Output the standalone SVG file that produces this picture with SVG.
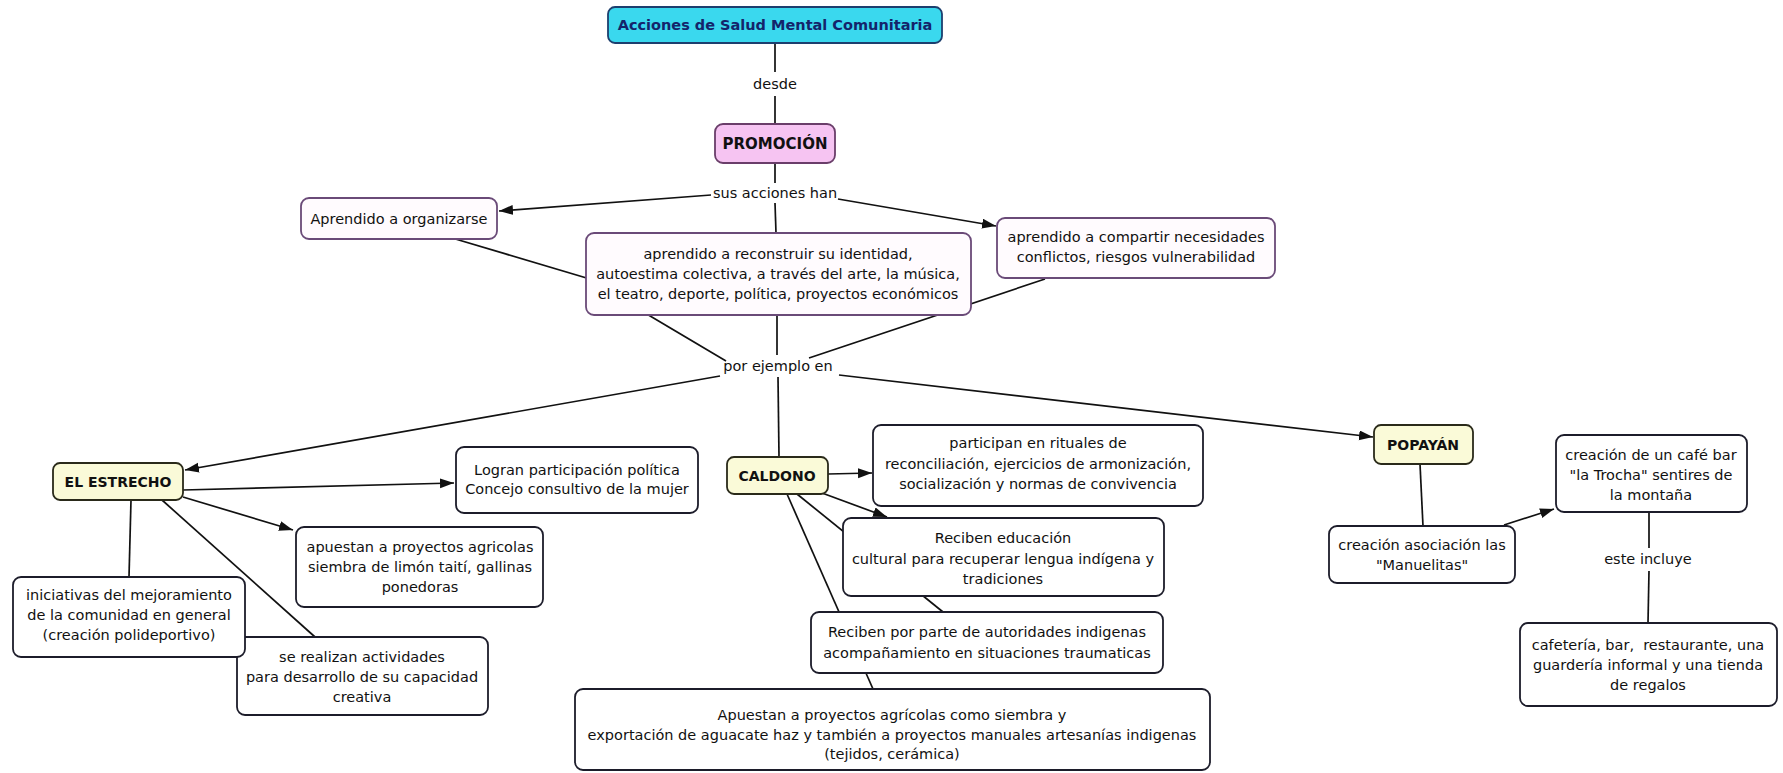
<svg xmlns="http://www.w3.org/2000/svg" width="1783" height="773" viewBox="0 0 1783 773">
<style>
text{font-family:"DejaVu Sans","Noto Sans",sans-serif;font-size:14.5px;fill:#111;text-anchor:middle}
.b{font-weight:bold}
.box{fill:#fff;stroke:#1c1c2a;stroke-width:1.8}
.pbox{fill:#fffbfe;stroke:#6a4a78;stroke-width:1.8}
.ybox{fill:#fafad8;stroke:#2a2a1a;stroke-width:1.8}
.ln{stroke:#111;stroke-width:1.7;fill:none}
.ar{marker-end:url(#ah)}
</style>
<defs>
<marker id="ah" markerUnits="userSpaceOnUse" markerWidth="15" markerHeight="11" refX="14" refY="5" orient="auto">
<path d="M0,0 L14,5 L0,10 z" fill="#111"/>
</marker>
</defs>
<rect width="1783" height="773" fill="#fff"/>
<g id="connectors">
<line class="ln" x1="775" y1="43" x2="775" y2="72"/>
<line class="ln" x1="775" y1="96" x2="775" y2="124"/>
<line class="ln" x1="775" y1="163" x2="775" y2="183"/>
<line class="ln" x1="775" y1="203" x2="776" y2="233"/>
<line class="ln ar" x1="711" y1="195" x2="499" y2="211"/>
<line class="ln ar" x1="838" y1="199" x2="996" y2="226"/>
<line class="ln" x1="452" y1="238" x2="600" y2="282"/>
<line class="ln" x1="640" y1="310" x2="726" y2="361"/>
<line class="ln" x1="1045" y1="279" x2="809" y2="358"/>
<line class="ln" x1="777" y1="315" x2="777" y2="355"/>
<line class="ln" x1="778" y1="377" x2="779" y2="457"/>
<line class="ln ar" x1="720" y1="376" x2="185" y2="470"/>
<line class="ln ar" x1="839" y1="375" x2="1373" y2="437"/>
<line class="ln ar" x1="183" y1="490" x2="454" y2="483"/>
<line class="ln ar" x1="183" y1="497" x2="293" y2="530"/>
<line class="ln" x1="131" y1="500" x2="129" y2="577"/>
<line class="ln" x1="162" y1="500" x2="315" y2="637"/>
<line class="ln ar" x1="828" y1="474" x2="872" y2="473"/>
<line class="ln ar" x1="822" y1="493" x2="887" y2="517"/>
<line class="ln" x1="797" y1="494" x2="943" y2="612"/>
<line class="ln" x1="787" y1="494" x2="873" y2="689"/>
<line class="ln" x1="1420" y1="464" x2="1423" y2="526"/>
<line class="ln ar" x1="1504" y1="525" x2="1554" y2="509"/>
<line class="ln" x1="1649" y1="512" x2="1649" y2="548"/>
<line class="ln" x1="1649" y1="571" x2="1648" y2="623"/>
<text x="775" y="89">desde</text>
<text x="775" y="198">sus acciones han</text>
<text x="778" y="371">por ejemplo en</text>
<text x="1648" y="564">este incluye</text>
</g>
<g id="n-top">
<rect x="608" y="7" width="334" height="36" rx="7" fill="#3ad8ee" stroke="#1d3f6e" stroke-width="1.8"/>
<text class="b" x="775" y="30" style="fill:#14246a">Acciones de Salud Mental Comunitaria</text>
</g>
<g id="n-promocion">
<rect x="715" y="124" width="120" height="39" rx="8" fill="#f6c4f2" stroke="#6a3e6a" stroke-width="1.8"/>
<text class="b" x="775" y="149" style="font-size:15px">PROMOCIÓN</text>
</g>
<g id="n-organizarse">
<rect class="pbox" x="301" y="198" width="196" height="41" rx="8"/>
<text x="399" y="224">Aprendido a organizarse</text>
</g>
<g id="n-identidad">
<rect class="pbox" x="586" y="233" width="385" height="82" rx="8"/>
<text x="778" y="259">aprendido a reconstruir su identidad,</text>
<text x="778" y="279">autoestima colectiva, a través del arte, la música,</text>
<text x="778" y="299">el teatro, deporte, política, proyectos económicos</text>
</g>
<g id="n-compartir">
<rect class="pbox" x="997" y="218" width="278" height="60" rx="8"/>
<text x="1136" y="242">aprendido a compartir necesidades</text>
<text x="1136" y="262">conflictos, riesgos vulnerabilidad</text>
</g>
<g id="n-estrecho">
<rect class="ybox" x="53" y="463" width="130" height="37" rx="7"/>
<text class="b" x="118" y="487" style="font-size:14px">EL ESTRECHO</text>
</g>
<g id="n-logran">
<rect class="box" x="456" y="447" width="242" height="66" rx="8"/>
<text x="577" y="475">Logran participación política</text>
<text x="577" y="494">Concejo consultivo de la mujer</text>
</g>
<g id="n-apuestan1">
<rect class="box" x="296" y="527" width="247" height="80" rx="8"/>
<text x="420" y="552">apuestan a proyectos agricolas</text>
<text x="420" y="572">siembra de limón taití, gallinas</text>
<text x="420" y="592">ponedoras</text>
</g>
<g id="n-realizan">
<rect class="box" x="237" y="637" width="251" height="78" rx="8"/>
<text x="362" y="662">se realizan actividades</text>
<text x="362" y="682">para desarrollo de su capacidad</text>
<text x="362" y="702">creativa</text>
</g>
<g id="n-iniciativas">
<rect class="box" x="13" y="577" width="232" height="80" rx="8"/>
<text x="129" y="600">iniciativas del mejoramiento</text>
<text x="129" y="620">de la comunidad en general</text>
<text x="129" y="640">(creación polideportivo)</text>
</g>
<g id="n-caldono">
<rect class="ybox" x="727" y="457" width="101" height="37" rx="7"/>
<text class="b" x="777" y="481" style="font-size:14px">CALDONO</text>
</g>
<g id="n-participan">
<rect class="box" x="873" y="425" width="330" height="81" rx="8"/>
<text x="1038" y="448">participan en rituales de</text>
<text x="1038" y="469">reconciliación, ejercicios de armonización,</text>
<text x="1038" y="489">socialización y normas de convivencia</text>
</g>
<g id="n-educacion">
<rect class="box" x="843" y="518" width="321" height="78" rx="8"/>
<text x="1003" y="543">Reciben educación</text>
<text x="1003" y="564">cultural para recuperar lengua indígena y</text>
<text x="1003" y="584">tradiciones</text>
</g>
<g id="n-autoridades">
<rect class="box" x="811" y="612" width="352" height="61" rx="8"/>
<text x="987" y="637">Reciben por parte de autoridades indigenas</text>
<text x="987" y="658">acompañamiento en situaciones traumaticas</text>
</g>
<g id="n-apuestan2">
<rect class="box" x="575" y="689" width="635" height="81" rx="8"/>
<text x="892" y="720">Apuestan a proyectos agrícolas como siembra y</text>
<text x="892" y="740">exportación de aguacate haz y también a proyectos manuales artesanías indigenas</text>
<text x="892" y="759">(tejidos, cerámica)</text>
</g>
<g id="n-popayan">
<rect class="ybox" x="1374" y="425" width="99" height="39" rx="7"/>
<text class="b" x="1423" y="450" style="font-size:14px">POPAYÁN</text>
</g>
<g id="n-manuelitas">
<rect class="box" x="1329" y="526" width="186" height="57" rx="8"/>
<text x="1422" y="550">creación asociación las</text>
<text x="1422" y="570">"Manuelitas"</text>
</g>
<g id="n-cafebar">
<rect class="box" x="1556" y="435" width="191" height="77" rx="8"/>
<text x="1651" y="460">creación de un café bar</text>
<text x="1651" y="480">"la Trocha" sentires de</text>
<text x="1651" y="500">la montaña</text>
</g>
<g id="n-cafeteria">
<rect class="box" x="1520" y="623" width="257" height="83" rx="8"/>
<text x="1648" y="650" xml:space="preserve">cafetería, bar,  restaurante, una</text>
<text x="1648" y="670">guardería informal y una tienda</text>
<text x="1648" y="690">de regalos</text>
</g>
</svg>
